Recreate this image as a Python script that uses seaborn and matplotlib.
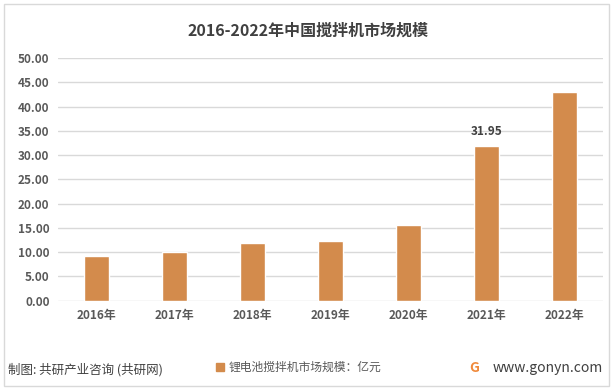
import pandas as pd
import matplotlib.pyplot as plt
import matplotlib.patches as mpatches
import seaborn as sns

# datos del grafico
anios = ['2016年', '2017年', '2018年', '2019年', '2020年', '2021年', '2022年']
valores = [9.3, 10.0, 11.9, 12.3, 15.6, 31.95, 43.0]
etiquetas_y = [0, 5, 10, 15, 20, 25, 30, 35, 40, 45, 50]

datos = pd.DataFrame({'anio': anios, 'valor': valores})

sns.set_style('white')
plt.rcParams['font.family'] = ['Noto Sans CJK SC', 'DejaVu Sans']

color_barra = '#D38B4C'
gris_texto = '#595959'

fig = plt.figure(figsize=(6.16, 3.92), dpi=100)
ax = fig.add_axes([0.094, 0.233, 0.885, 0.619])

sns.barplot(data=datos, x='anio', y='valor', color=color_barra, width=0.32,
            saturation=1, ax=ax, zorder=3)

ax.set_ylim(0, 50)
ax.set_yticks(etiquetas_y)
ax.set_yticklabels([f'{v:.2f}' for v in etiquetas_y], fontsize=8.5,
                   color=gris_texto, fontweight='bold')
ax.set_xticklabels(anios, fontsize=8.5, color=gris_texto, fontweight='bold')
ax.tick_params(axis='both', length=0, pad=6)
ax.grid(axis='y', color='#D9D9D9', linewidth=1, zorder=0)
ax.set_xlabel('')
ax.set_ylabel('')
for s in ax.spines.values():
    s.set_visible(False)

# etiqueta solo en 2021
ax.text(5, 31.95 + 1.6, '31.95', ha='center', va='bottom', fontsize=8.5,
        color='#404040', fontweight='bold')

# titulo
fig.text(0.5, 0.923, '2016-2022年中国搅拌机市场规模', ha='center', va='center',
         fontsize=11.5, fontweight='bold', color='#404040')

# leyenda
parche = mpatches.Patch(color=color_barra, label='锂电池搅拌机市场规模：亿元')
fig.legend(handles=[parche], loc='center', bbox_to_anchor=(0.485, 0.062),
           frameon=False, fontsize=8.5, handlelength=0.7, handleheight=0.7,
           handletextpad=0.4, labelcolor=gris_texto)

# pie
fig.text(0.013, 0.058, '制图: 共研产业咨询 (共研网)', ha='left', va='center',
         fontsize=9, color='#404040')
fig.text(0.77, 0.062, 'G', ha='center', va='center', fontsize=10,
         fontweight='bold', color='#F08A3C')
fig.text(0.978, 0.062, 'www.gonyn.com', ha='right', va='center',
         fontsize=10, color='#404040')

# marco exterior
marco = mpatches.Rectangle((0.007, 0.015), 0.982, 0.975, transform=fig.transFigure,
                           fill=False, edgecolor='#D9D9D9', linewidth=1)
fig.patches.append(marco)

plt.savefig('out.png', dpi=100)
